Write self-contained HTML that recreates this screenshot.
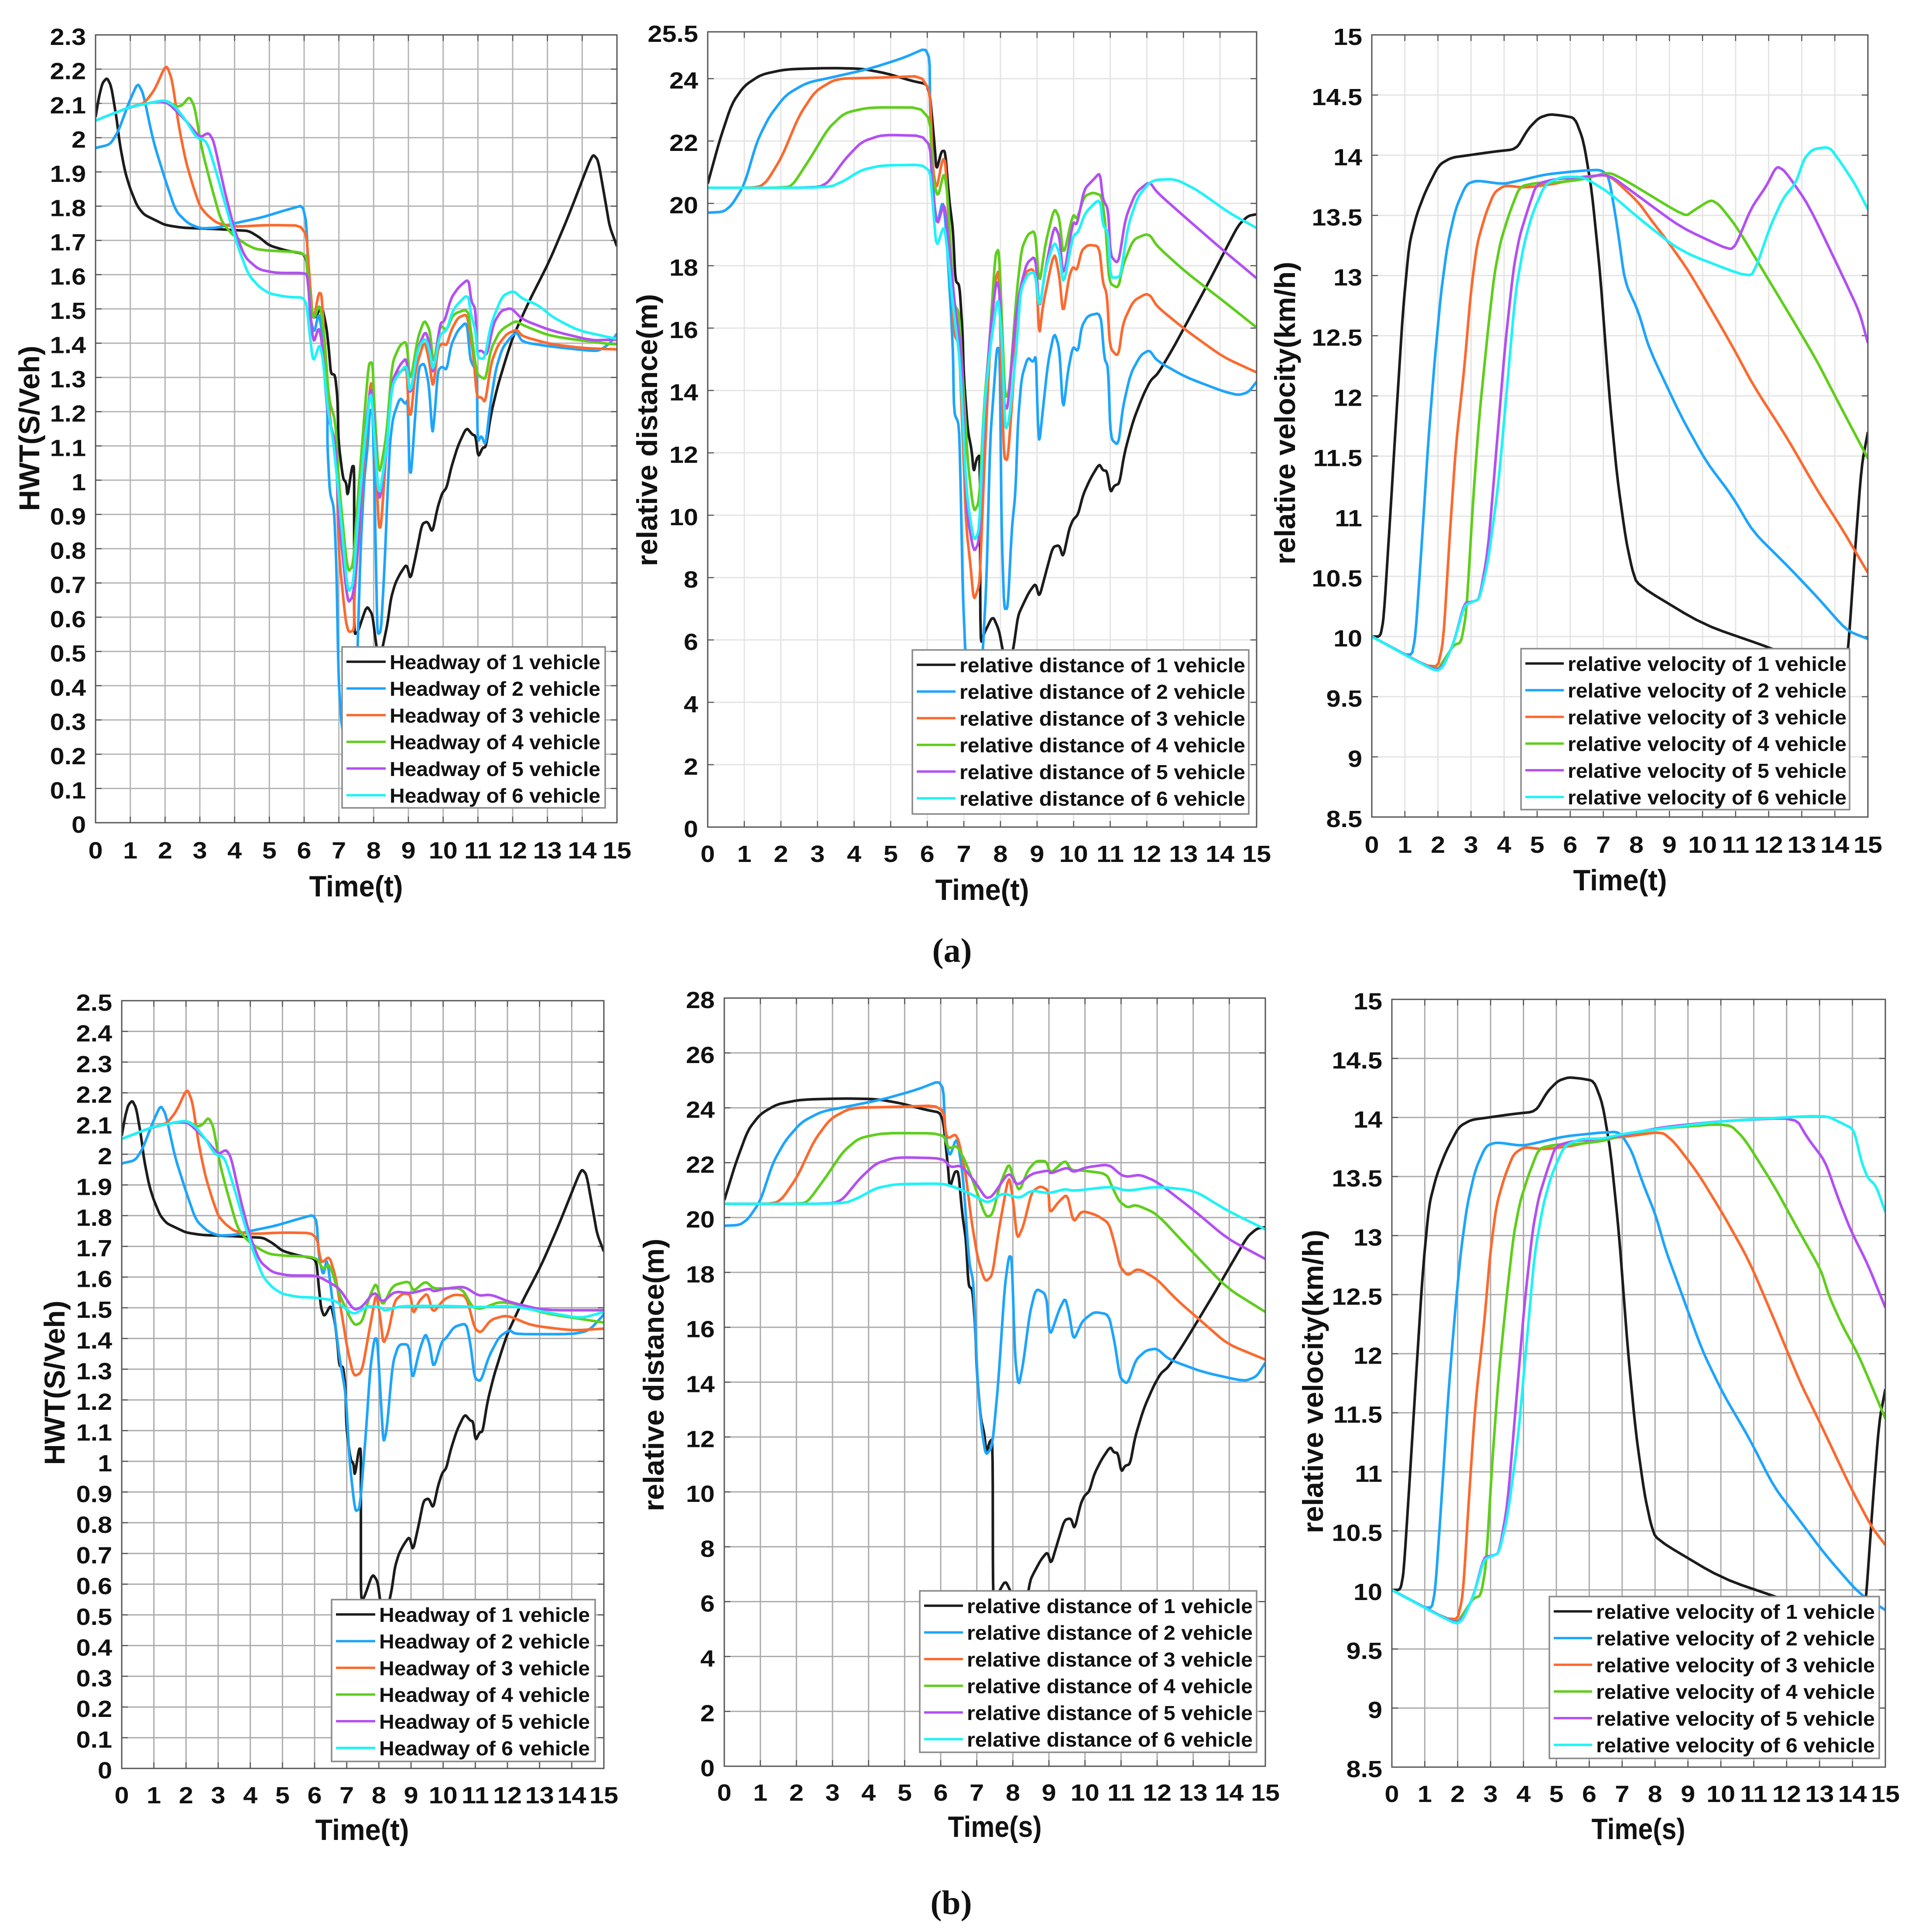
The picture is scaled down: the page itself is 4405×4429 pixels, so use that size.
<!DOCTYPE html>
<html lang="en">
<head>
<meta charset="utf-8">
<title>Headway, relative distance and relative velocity of 6 vehicles</title>
<style>
html,body{margin:0;padding:0;background:#fff;width:4405px;height:4429px;overflow:hidden}
svg{display:block}
text{font-family:"Liberation Sans",sans-serif;font-weight:bold;fill:#111}
.cap{font-family:"Liberation Serif",serif;font-size:78px;fill:#111}
</style>
</head>
<body>
<svg id="figure" xmlns="http://www.w3.org/2000/svg" width="4405" height="4429" viewBox="0 0 4405 4429">
<rect width="4405" height="4429" fill="#fff"/>
<g id="panels"></g>
<text class="cap" x="2182" y="2205" text-anchor="middle">(a)</text>
<text class="cap" x="2180" y="4388" text-anchor="middle">(b)</text>
</svg>
<script>
/* ---------- tick labels ---------- */
const timeTicks=["0","1","2","3","4","5","6","7","8","9","10","11","12","13","14","15"];
const hwtTicksA=["0","0.1","0.2","0.3","0.4","0.5","0.6","0.7","0.8","0.9","1","1.1","1.2","1.3","1.4","1.5","1.6","1.7","1.8","1.9","2","2.1","2.2","2.3"];
const hwtTicksB=["0","0.1","0.2","0.3","0.4","0.5","0.6","0.7","0.8","0.9","1","1.1","1.2","1.3","1.4","1.5","1.6","1.7","1.8","1.9","2","2.1","2.2","2.3","2.4","2.5"];
const distTicksA=["0","2","4","6","8","10","12","14","16","18","20","22","24","25.5"];
const distTicksB=["0","2","4","6","8","10","12","14","16","18","20","22","24","26","28"];
const velTicks=["8.5","9","9.5","10","10.5","11","11.5","12","12.5","13","13.5","14","14.5","15"];

/* ---------- legend labels ---------- */
const hwtNames=["Headway of 1 vehicle","Headway of 2 vehicle","Headway of 3 vehicle","Headway of 4 vehicle","Headway of 5 vehicle","Headway of 6 vehicle"];
const distNames=["relative distance of 1 vehicle","relative distance of 2 vehicle","relative distance of 3 vehicle","relative distance of 4 vehicle","relative distance of 5 vehicle","relative distance of 6 vehicle"];
const velNames=["relative velocity of 1 vehicle","relative velocity of 2 vehicle","relative velocity of 3 vehicle","relative velocity of 4 vehicle","relative velocity of 5 vehicle","relative velocity of 6 vehicle"];
const seriesColors=["#1c1c1c","#1ea5fb","#fb6a2f","#5fce1c","#b350f2","#1ff3f6"];

/* ---------- headway series: [time, value] ---------- */
const hwt1=[[0,2.06],[.1,2.12],[.2,2.16],[.33,2.175],[.45,2.15],[.6,2.06],[.7,1.98],[.85,1.9],[1,1.85],[1.2,1.8],[1.4,1.775],[1.7,1.76],[2,1.745],[2.5,1.737],[3,1.735],[3.5,1.733],[4,1.73],[4.4,1.728],[4.7,1.71],[5,1.685],[5.5,1.67],[6.05,1.66],[6.12,1.58],[6.2,1.5],[6.3,1.47],[6.51,1.511],[6.64,1.448],[6.71,1.384],[6.77,1.31],[6.89,1.308],[6.96,1.24],[6.99,1.11],[7.12,1.004],[7.21,.993],[7.25,.951],[7.38,1.041],[7.44,1.041],[7.44,.825],[7.44,.55],[7.54,.555],[7.8,.634],[7.96,.609],[8.05,.54],[8.15,.46],[8.27,.518],[8.4,.582],[8.5,.656],[8.62,.698],[8.75,.725],[8.95,.756],[9.06,.708],[9.24,.793],[9.39,.872],[9.55,.88],[9.69,.846],[9.84,.92],[9.97,.962],[10.1,.978],[10.23,1.036],[10.42,1.099],[10.67,1.154],[10.84,1.133],[10.93,1.13],[11.01,1.067],[11.13,1.094],[11.23,1.097],[11.38,1.195],[11.58,1.279],[11.83,1.363],[12.02,1.421],[12.47,1.522],[13.05,1.638],[13.6,1.77],[14.2,1.928],[14.32,1.951],[14.46,1.934],[14.67,1.812],[14.79,1.74],[15,1.683]];
const hwt2Early=[[0,1.97],[.42,1.98],[.66,2.02],[.95,2.1],[1.21,2.16],[1.37,2.13],[1.66,1.99],[2.01,1.875],[2.31,1.785],[2.66,1.75],[3.01,1.735],[3.49,1.737],[4,1.75],[4.78,1.767],[5.49,1.789],[6.05,1.805]];
const hwt3Early=[[0,2.05],[1,2.09],[1.4,2.1],[1.7,2.14],[2.03,2.215],[2.2,2.17],[2.4,2.03],[2.6,1.93],[2.8,1.86],[3,1.8],[3.2,1.775],[3.5,1.75],[4,1.74],[5,1.745],[6.05,1.743]];
const hwt4Early=[[0,2.05],[1,2.09],[2,2.11],[2.35,2.09],[2.5,2.095],[2.7,2.12],[2.85,2.09],[3.05,1.97],[3.3,1.87],[3.6,1.76],[3.9,1.72],[4.3,1.69],[4.6,1.675],[5,1.67],[6.05,1.665]];
const hwt5Early=[[0,2.05],[1,2.09],[2,2.11],[2.6,2.05],[3,2],[3.25,2.015],[3.4,1.99],[3.7,1.85],[4,1.73],[4.3,1.65],[4.7,1.615],[5.2,1.605],[6.05,1.605]];
const hwt6Early=[[0,2.05],[.5,2.07],[1,2.09],[1.5,2.1],[2,2.11],[2.3,2.09],[2.6,2.05],[2.9,2],[3.2,1.99],[3.5,1.89],[3.8,1.78],[4.1,1.68],[4.4,1.6],[4.7,1.565],[5,1.545],[5.5,1.535],[6.05,1.533]];

const hwtA2=[[6.16,1.48],[6.29,1.427],[6.42,1.49],[6.51,1.437],[6.67,1.216],[6.67,1.1],[6.74,.962],[6.86,.92],[6.93,.751],[6.99,.424],[7.08,.276],[7.3,.2],[7.5,.3],[7.54,.519],[7.63,.814],[7.73,1.004],[7.83,1.1],[7.89,1.205],[7.97,1.205],[8.02,1],[8.08,.688],[8.11,.55],[8.21,.556],[8.31,.74],[8.4,.962],[8.47,1.11],[8.56,1.184],[8.76,1.242],[8.92,1.221],[8.98,1.237],[9.03,1.026],[9.08,1.02],[9.2,1.194],[9.3,1.332],[9.46,1.342],[9.59,1.279],[9.69,1.131],[9.75,1.184],[9.85,1.321],[9.97,1.332],[10.1,1.321],[10.23,1.395],[10.42,1.437],[10.68,1.464],[10.78,1.353],[10.87,1.332],[10.97,1.321],[10.99,1.11],[11.1,1.131],[11.22,1.1],[11.35,1.216],[11.51,1.321],[11.7,1.385],[11.96,1.42],[12.12,1.432],[12.28,1.403],[13.1,1.39],[14.4,1.376],[14.6,1.385],[14.83,1.403],[15,1.428]];
const hwtA3=[[6.16,1.585],[6.26,1.458],[6.42,1.548],[6.51,1.543],[6.64,1.29],[6.8,1.131],[6.93,1.1],[6.99,.793],[7.19,.592],[7.28,.556],[7.44,.561],[7.44,.656],[7.6,.867],[7.76,1.11],[7.92,1.3],[7.99,1.215],[8.08,1.004],[8.15,.862],[8.21,.862],[8.31,1.004],[8.47,1.258],[8.63,1.31],[8.82,1.32],[8.95,1.33],[9.01,1.194],[9.08,1.19],[9.2,1.321],[9.46,1.41],[9.59,1.353],[9.71,1.263],[9.85,1.385],[9.97,1.4],[10.1,1.393],[10.23,1.437],[10.42,1.474],[10.68,1.485],[10.78,1.427],[10.87,1.363],[10.97,1.242],[11.1,1.242],[11.21,1.226],[11.38,1.342],[11.58,1.395],[11.83,1.427],[12.12,1.44],[12.28,1.42],[13.1,1.397],[14.1,1.385],[15,1.382]];
const hwtA4=[[6.1,1.6],[6.26,1.464],[6.45,1.517],[6.58,1.427],[6.71,1.237],[6.9,1.173],[6.99,1.004],[7.25,.73],[7.41,.751],[7.54,.941],[7.73,1.184],[7.86,1.342],[7.97,1.344],[8.02,1.216],[8.15,1.004],[8.37,1.131],[8.53,1.342],[8.76,1.395],[8.95,1.406],[9.05,1.279],[9.27,1.416],[9.46,1.469],[9.62,1.437],[9.72,1.332],[9.91,1.453],[10.1,1.437],[10.29,1.485],[10.71,1.5],[10.81,1.427],[10.97,1.311],[11.1,1.3],[11.22,1.295],[11.38,1.385],[11.64,1.437],[12.09,1.466],[12.28,1.453],[13.1,1.42],[14.83,1.397],[15,1.397]];
const hwtA5=[[6.1,1.59],[6.26,1.395],[6.42,1.448],[6.51,1.406],[6.67,1.194],[6.9,1.11],[6.99,.899],[7.25,.64],[7.41,.661],[7.54,.793],[7.76,1.142],[7.92,1.284],[8.02,1.163],[8.15,.92],[8.37,1.078],[8.53,1.29],[8.76,1.337],[8.95,1.358],[9.05,1.237],[9.27,1.385],[9.49,1.437],[9.62,1.395],[9.71,1.3],[9.91,1.458],[10.04,1.464],[10.23,1.532],[10.45,1.564],[10.73,1.588],[10.81,1.522],[10.93,1.5],[10.97,1.374],[11.1,1.379],[11.26,1.363],[11.45,1.458],[11.67,1.495],[11.96,1.503],[12.28,1.469],[13.1,1.437],[14.27,1.408],[14.83,1.41],[15,1.41]];
const hwtA6=[[6.16,1.427],[6.26,1.342],[6.45,1.4],[6.54,1.353],[6.67,1.216],[6.83,1.12],[6.96,.994],[7.25,.672],[7.41,.693],[7.54,.878],[7.73,1.1],[7.92,1.274],[8.02,1.131],[8.15,.941],[8.37,1.09],[8.53,1.279],[8.76,1.316],[8.95,1.337],[9.05,1.247],[9.27,1.385],[9.49,1.416],[9.62,1.374],[9.71,1.316],[9.91,1.427],[10.1,1.437],[10.29,1.5],[10.71,1.545],[10.81,1.48],[10.93,1.437],[10.99,1.358],[11.19,1.353],[11.38,1.458],[11.7,1.538],[12.02,1.553],[12.28,1.53],[12.73,1.511],[13.18,1.474],[13.89,1.437],[14.83,1.416],[15,1.413]];

const hwtB2=[[6.14,1.66],[6.27,1.603],[6.39,1.664],[6.58,1.502],[6.77,1.34],[6.97,1.22],[7.09,.998],[7.26,.836],[7.41,.846],[7.6,1.098],[7.73,1.3],[7.86,1.4],[7.95,1.4],[8.05,1.22],[8.14,1.058],[8.24,1.098],[8.43,1.32],[8.62,1.381],[8.94,1.381],[9.04,1.26],[9.26,1.361],[9.45,1.418],[9.58,1.381],[9.7,1.3],[9.96,1.391],[10.09,1.401],[10.34,1.438],[10.72,1.45],[10.85,1.381],[10.98,1.27],[11.17,1.26],[11.42,1.341],[11.74,1.405],[12.06,1.428],[12.25,1.414],[14.03,1.414],[14.54,1.426],[15,1.478]];
const hwtB3=[[6.2,1.644],[6.46,1.668],[6.65,1.603],[6.84,1.482],[7.03,1.361],[7.22,1.276],[7.47,1.29],[7.73,1.442],[7.92,1.553],[8.05,1.462],[8.14,1.381],[8.3,1.422],[8.49,1.523],[8.75,1.547],[8.98,1.543],[9.07,1.478],[9.26,1.523],[9.51,1.549],[9.68,1.482],[10.02,1.527],[10.34,1.543],[10.72,1.539],[10.98,1.432],[11.17,1.418],[11.49,1.462],[11.99,1.476],[12.76,1.442],[14.03,1.426],[15,1.432]];
const hwtB4=[[6.27,1.624],[6.46,1.644],[6.77,1.543],[7.22,1.442],[7.47,1.452],[7.73,1.543],[7.92,1.583],[8.11,1.502],[8.43,1.573],[8.94,1.587],[9.07,1.553],[9.45,1.587],[9.7,1.563],[10.02,1.563],[10.59,1.563],[10.91,1.502],[11.17,1.496],[11.74,1.519],[12.25,1.513],[13.14,1.482],[15,1.452]];
const hwtB5=[[6.39,1.587],[6.77,1.563],[7.22,1.492],[7.47,1.502],[7.86,1.553],[8.11,1.517],[8.49,1.553],[9,1.547],[9.58,1.563],[9.7,1.553],[10.09,1.563],[10.66,1.569],[11.1,1.539],[11.49,1.543],[12.12,1.517],[13.14,1.492],[15,1.492]];
const hwtB6=[[6.65,1.523],[6.9,1.502],[7.22,1.478],[7.67,1.506],[8.05,1.502],[8.18,1.49],[8.68,1.506],[10.21,1.506],[11.17,1.502],[12.12,1.506],[13.4,1.482],[14.29,1.466],[15,1.486]];

/* ---------- relative distance series ---------- */
const dist1=[[0,20.63],[.32,22],[.66,23.2],[1,23.77],[1.46,24.13],[2.14,24.3],[3.29,24.34],[4.2,24.32],[4.88,24.17],[5.57,23.93],[6.05,23.81],[6.2,21.86],[6.25,21.04],[6.39,21.68],[6.49,21.68],[6.6,20.1],[6.7,19.19],[6.77,17.5],[6.88,17.39],[6.96,15.94],[7,14.43],[7.11,12.69],[7.21,12.11],[7.27,11.36],[7.35,11.82],[7.44,11.94],[7.45,5.85],[7.55,6.2],[7.79,6.78],[7.96,6.31],[8.07,5.62],[8.2,5.27],[8.34,5.62],[8.48,6.78],[8.61,7.12],[8.78,7.53],[8.96,7.82],[9.06,7.36],[9.23,8.11],[9.43,8.98],[9.61,9.04],[9.71,8.63],[9.88,9.56],[9.98,9.85],[10.12,10.02],[10.26,10.66],[10.46,11.18],[10.7,11.65],[10.8,11.44],[10.91,11.42],[11.01,10.72],[11.11,10.95],[11.25,11.01],[11.39,12],[11.63,13.04],[11.9,13.85],[12.1,14.32],[12.31,14.55],[12.72,15.36],[13.2,16.4],[13.68,17.45],[14.09,18.38],[14.5,19.3],[14.77,19.6],[15,19.65]];
const dist2Early=[[0,19.7],[.43,19.73],[.66,19.95],[1,20.6],[1.35,22],[1.69,22.8],[2.14,23.48],[2.71,23.87],[3.51,24.07],[4.43,24.32],[5.34,24.66],[6.06,25.03]];
const dist3Early=[[0,20.5],[1.2,20.5],[1.45,20.55],[1.63,20.73],[2.03,21.5],[2.49,22.8],[2.94,23.6],[3.51,24],[4.65,24.03],[6.06,24.09]];
const dist4Early=[[0,20.5],[2.2,20.5],[2.37,20.67],[2.83,21.5],[3.29,22.4],[3.74,22.9],[4.43,23.08],[6.06,23.07]];
const dist5Early=[[0,20.5],[3,20.5],[3.29,20.67],[3.74,21.4],[4.2,21.97],[4.77,22.2],[6.06,22.16]];
const dist6Early=[[0,20.5],[3.3,20.5],[3.74,20.73],[4.2,21.07],[4.77,21.22],[6.06,21.24]];

const distA2=[[6.08,22.8],[6.18,20.1],[6.27,19.3],[6.42,20.1],[6.5,19.42],[6.7,15.48],[6.73,13.27],[6.87,12.92],[6.92,10.49],[6.97,7.59],[7.04,5.6],[7.1,4.9],[7.45,4.9],[7.52,5.67],[7.62,7.94],[7.72,12.46],[7.83,14.2],[7.9,15.36],[7.98,15.36],[8.03,9.56],[8.1,7],[8.2,7],[8.31,9.56],[8.41,10.72],[8.48,13.04],[8.58,14.43],[8.75,15.07],[8.89,14.9],[8.97,15.13],[9.02,13.04],[9.06,12.29],[9.16,13.39],[9.3,14.9],[9.47,15.88],[9.61,15.36],[9.71,13.27],[9.85,14.66],[9.98,15.42],[10.12,15.24],[10.22,16.06],[10.39,16.4],[10.74,16.49],[10.84,15.01],[10.94,14.78],[11.01,12.46],[11.22,12.23],[11.35,13.5],[11.56,14.55],[11.83,15.13],[12.07,15.3],[12.28,14.95],[13.06,14.43],[14.09,13.97],[14.5,13.85],[14.77,13.94],[15,14.28]];
const distA3=[[6.15,21.16],[6.25,20.4],[6.42,21.45],[6.5,21.33],[6.66,17.7],[6.73,15.8],[6.87,15.48],[6.97,12.46],[7.07,9.56],[7.18,8.4],[7.27,7.24],[7.42,7.76],[7.45,8.4],[7.55,11.3],[7.69,14.9],[7.86,17.56],[7.96,17.9],[8.03,14.2],[8.1,11.82],[8.2,11.76],[8.34,13.97],[8.48,16.75],[8.68,17.8],[8.89,17.91],[8.99,17.45],[9.06,15.7],[9.16,16.75],[9.47,18.49],[9.61,17.68],[9.71,16.4],[9.88,17.68],[9.98,17.97],[10.09,17.85],[10.22,18.49],[10.39,18.67],[10.7,18.63],[10.8,17.45],[10.91,17.1],[10.99,15.36],[11.22,15.07],[11.35,16.17],[11.63,16.87],[11.97,17.1],[12.1,17.04],[12.28,16.69],[13.06,15.94],[14.09,15.07],[15,14.58]];
const distA4=[[6.15,20.81],[6.29,20.17],[6.46,21.04],[6.56,20.23],[6.73,16.75],[6.87,16.52],[6.97,14.43],[7.11,11.65],[7.27,10.08],[7.42,10.43],[7.55,13.5],[7.69,15.36],[7.86,18.38],[7.96,18.55],[8.07,15.36],[8.13,13.74],[8.24,13.97],[8.44,17.1],[8.58,18.55],[8.75,19.01],[8.95,19.13],[9.06,17.33],[9.23,18.72],[9.47,19.86],[9.61,19.54],[9.72,18.26],[9.98,19.67],[10.09,19.48],[10.29,20.23],[10.53,20.35],[10.77,20.25],[10.87,19.3],[10.97,17.45],[11.22,17.27],[11.35,18.03],[11.63,18.84],[11.97,19.01],[12.1,18.96],[12.28,18.63],[13.06,17.8],[14.09,16.87],[15,16.02]];
const distA5=[[6.15,20.35],[6.27,19.25],[6.46,20.06],[6.56,19.07],[6.77,16.52],[6.94,15.25],[7.07,10.14],[7.27,8.8],[7.42,9.15],[7.55,13.04],[7.72,15.94],[7.89,17.56],[7.98,17.2],[8.1,13.5],[8.2,13.39],[8.41,16.29],[8.55,17.33],[8.72,18.09],[8.96,18.32],[9.06,16.52],[9.23,17.91],[9.47,19.3],[9.61,18.96],[9.72,17.56],[9.98,19.42],[10.09,19.3],[10.29,20.46],[10.53,20.75],[10.72,20.99],[10.8,20.12],[10.94,19.83],[11.01,18.32],[11.18,18.09],[11.25,18.26],[11.42,19.54],[11.7,20.35],[12.07,20.7],[12.28,20.35],[13.06,19.54],[14.09,18.49],[15,17.6]];
const distA6=[[6.15,20],[6.25,18.55],[6.46,19.33],[6.56,18.38],[6.7,16.75],[6.9,14.9],[7.07,10.72],[7.27,9.15],[7.42,9.5],[7.55,13.39],[7.72,15.36],[7.93,17.1],[8.03,15.82],[8.13,12.69],[8.24,13.04],[8.44,15.36],[8.55,17.22],[8.75,17.74],[8.95,17.8],[9.06,16.58],[9.23,17.91],[9.47,18.78],[9.61,18.43],[9.72,17.33],[9.98,18.96],[10.12,19.07],[10.32,19.71],[10.72,20.17],[10.8,19.3],[10.94,19.07],[11.01,17.62],[11.18,17.62],[11.28,17.68],[11.49,19.3],[11.76,20.23],[12.14,20.75],[12.79,20.78],[13.41,20.4],[14.23,19.71],[15,19.21]];

const distB2=[[6.13,23.07],[6.24,22.17],[6.45,22.96],[6.62,21.49],[6.79,18.33],[6.91,17.65],[7.02,14.03],[7.14,12.23],[7.25,11.32],[7.43,11.66],[7.6,14.03],[7.77,17.42],[7.89,18.6],[7.97,18.55],[8.06,14.94],[8.16,13.81],[8.29,14.71],[8.47,16.52],[8.64,17.42],[8.93,17.2],[9.02,15.62],[9.28,16.63],[9.45,17.08],[9.56,16.52],[9.68,15.5],[9.91,16.18],[10.03,16.34],[10.26,16.56],[10.66,16.47],[10.83,15.39],[10.97,14.15],[11.18,13.92],[11.41,14.82],[11.7,15.16],[11.99,15.23],[12.34,14.82],[13.26,14.37],[14.42,14.03],[14.76,14.21],[15,14.71]];
const distB3=[[6.16,22.85],[6.45,23.07],[6.68,21.72],[6.85,19.91],[7.02,18.55],[7.23,17.65],[7.43,17.88],[7.6,19.46],[7.89,21.6],[8.01,20.59],[8.12,19.19],[8.29,19.68],[8.52,20.93],[8.76,21.15],[8.99,20.99],[9.02,20.14],[9.28,20.59],[9.51,20.86],[9.68,19.8],[9.91,20.25],[10.32,20.09],[10.66,19.8],[10.83,19.01],[10.97,18.21],[11.18,17.88],[11.47,18.15],[11.99,17.76],[12.57,16.97],[13.26,16.18],[13.95,15.39],[15,14.82]];
const distB4=[[6.21,22.51],[6.45,22.62],[6.68,22.06],[6.91,21.27],[7.25,20.02],[7.43,20.09],[7.66,21.27],[7.89,21.99],[8.01,21.49],[8.18,20.93],[8.41,21.72],[8.64,22.06],[8.93,22.06],[9.04,21.6],[9.45,22.1],[9.62,21.72],[9.91,21.72],[10.6,21.6],[10.78,21.04],[10.95,20.59],[11.18,20.36],[11.41,20.47],[11.99,20.14],[13.03,18.67],[13.95,17.42],[15,16.56]];
const distB5=[[6.27,21.83],[6.56,21.9],[6.91,21.38],[7.25,20.7],[7.43,20.77],[7.89,21.67],[8.12,21.15],[8.52,21.6],[8.99,21.72],[9.04,21.6],[9.51,21.83],[9.68,21.65],[10.03,21.83],[10.66,21.94],[11.01,21.54],[11.18,21.49],[11.53,21.56],[11.99,21.31],[13.03,20.25],[13.95,19.23],[15,18.49]];
const distB6=[[6.45,21.08],[6.91,20.81],[7.31,20.52],[7.72,20.9],[8.18,20.7],[8.52,20.99],[8.99,20.88],[9.45,21.04],[9.68,20.97],[10.72,21.13],[11.18,20.97],[11.99,21.13],[13.03,20.99],[13.95,20.25],[15,19.57]];

/* ---------- relative velocity series ---------- */
const vel1=[[0,10],[.26,10],[.36,10.15],[.55,10.97],[.74,11.83],[.94,12.7],[1.13,13.26],[1.36,13.51],[1.64,13.71],[2.03,13.92],[2.41,13.98],[2.93,14],[3.7,14.03],[4.37,14.05],[4.73,14.22],[5.05,14.31],[5.37,14.34],[5.75,14.33],[6.14,14.31],[6.4,14.12],[6.65,13.71],[6.91,13],[7.17,12.04],[7.42,11.32],[7.68,10.81],[7.87,10.56],[8.03,10.43],[10.02,10.1],[12.11,9.9],[13.2,9.77],[14.29,9.64],[14.42,9.95],[14.61,10.71],[14.81,11.42],[15,11.7]];
const vel2Early=[[0,10],[1.19,9.82],[1.32,10],[1.52,10.81],[1.71,11.63],[1.9,12.29],[2.09,12.85],[2.29,13.26],[2.54,13.56],[2.86,13.76],[3.18,13.79],[3.96,13.76],[4.47,13.79],[5.24,13.84],[6.27,13.87],[6.93,13.88]];
const vel3Early=[[0,10],[1.96,9.71],[2.16,9.95],[2.35,10.81],[2.54,11.58],[2.8,12.24],[2.99,12.85],[3.18,13.26],[3.44,13.51],[3.7,13.69],[4.02,13.75],[4.6,13.73],[5.5,13.76],[6.4,13.82],[7.17,13.84]];
const vel4Early=[[0,10],[1.96,9.71],[2.22,9.82],[2.48,9.93],[2.7,9.95],[2.86,10.2],[3.06,11.12],[3.25,11.83],[3.51,12.54],[3.7,13],[3.89,13.28],[4.15,13.51],[4.47,13.74],[4.98,13.77],[5.5,13.77],[6.4,13.8],[7.17,13.86]];
const vel5Early=[[0,10],[1.96,9.71],[2.2,9.78],[2.48,9.95],[2.8,10.28],[3.06,10.29],[3.25,10.31],[3.51,10.71],[3.76,11.53],[4.02,12.39],[4.28,13.05],[4.47,13.33],[4.73,13.56],[4.98,13.76],[5.5,13.8],[6.4,13.82]];
const vel6Early=[[0,10],[1.19,9.82],[1.96,9.71],[2.16,9.75],[2.48,9.95],[2.8,10.26],[3.06,10.29],[3.25,10.31],[3.51,10.61],[3.83,11.27],[4.08,12.04],[4.34,12.85],[4.6,13.26],[4.85,13.51],[5.24,13.76],[5.75,13.82],[6.4,13.82]];

const velA2=[[7.17,13.82],[7.42,13.41],[7.65,12.95],[8.06,12.7],[8.39,12.39],[9.35,11.83],[10.12,11.45],[10.89,11.17],[11.53,10.87],[12.56,10.59],[13.46,10.33],[14.36,10.05],[15,9.98]];
const velA3=[[8.06,13.61],[8.45,13.46],[8.96,13.28],[9.6,13.03],[10.89,12.42],[11.53,12.09],[12.56,11.65],[13.46,11.22],[14.23,10.89],[15,10.53]];
const velA4=[[7.68,13.79],[9.48,13.49],[9.73,13.54],[10.25,13.63],[10.5,13.59],[11.02,13.41],[11.92,13],[12.82,12.59],[13.46,12.29],[14.23,11.88],[15,11.48]];
const velA5=[[7.17,13.84],[8.06,13.66],[9.35,13.4],[10.83,13.21],[11.02,13.26],[11.47,13.56],[11.92,13.74],[12.24,13.91],[12.49,13.87],[13.2,13.59],[14.23,13],[14.74,12.7],[15,12.44]];
const velA6=[[7.17,13.69],[8.06,13.48],[9.35,13.2],[11.44,12.98],[11.66,13.1],[12.05,13.41],[12.43,13.64],[12.82,13.77],[13.07,13.97],[13.33,14.05],[13.84,14.07],[14.23,13.92],[14.61,13.76],[15,13.55]];

const velB2=[[7.3,13.71],[7.62,13.45],[8.01,13.18],[8.33,12.87],[8.78,12.53],[9.43,12.03],[10.07,11.66],[10.85,11.29],[11.62,10.87],[12.39,10.59],[13.17,10.3],[14.2,9.97],[15,9.83]];
const velB3=[[8.2,13.88],[8.59,13.79],[9.3,13.53],[10.07,13.18],[10.85,12.79],[11.62,12.29],[12.39,11.77],[13.04,11.4],[13.94,10.87],[14.59,10.53],[15,10.38]];
const velB4=[[8.27,13.91],[10.24,13.95],[10.72,13.82],[11.62,13.42],[12.39,13.03],[13.04,12.71],[13.3,12.48],[13.69,12.24],[14.2,11.98],[15,11.45]];
const velB5=[[7,13.85],[8.27,13.92],[10.07,13.97],[12.27,14],[12.65,13.82],[13.17,13.63],[13.56,13.32],[13.94,13.05],[14.46,12.76],[15,12.39]];
const velB6=[[7,13.86],[8.27,13.91],[10.07,13.97],[13.17,14.02],[13.69,13.95],[14.04,13.9],[14.27,13.63],[14.46,13.49],[14.72,13.42],[15,13.2]];

/* ---------- panel layout (styling only, values come from the arrays above) ---------- */
const panels=[
 {key:'a-hwt',box:[219,80,1414,1886],yMin:0,yMax:2.3,yTicks:hwtTicksA,grid:'#b4b4b4',
  series:[hwt1,[...hwt2Early,...hwtA2],[...hwt3Early,...hwtA3],[...hwt4Early,...hwtA4],[...hwt5Early,...hwtA5],[...hwt6Early,...hwtA6]],names:hwtNames,
  legend:[784,1483,1387,1852,109,483],yTitle:"HWT(S/Veh)",yT:[68,982,379],xTitle:"Time(t)",xT:[816,2055],xLab:1968},
 {key:'a-distance',box:[1622,73,2880,1896],yMin:0,yMax:25.5,yTicks:distTicksA,grid:'#e4e4e4',
  series:[dist1,[...dist2Early,...distA2],[...dist3Early,...distA3],[...dist4Early,...distA4],[...dist5Early,...distA5],[...dist6Early,...distA6]],names:distNames,
  legend:[2091,1490,2862,1866,108,655],yTitle:"relative distance(m)",yT:[1484,986,624],xTitle:"Time(t)",xT:[2251,2063],xLab:1976},
 {key:'a-velocity',box:[3144,80,4281,1873],yMin:8.5,yMax:15,yTicks:velTicks,grid:'#e4e4e4',
  series:[vel1,[...vel2Early,...velA2],[...vel3Early,...velA3],[...vel4Early,...velA4],[...vel5Early,...velA5],[...vel6Early,...velA6]],names:velNames,
  legend:[3486,1487,4239,1856,107,639],yTitle:"relative velocity(km/h)",yT:[2946,947,694],xTitle:"Time(t)",xT:[3713,2041],xLab:1955},
 {key:'b-hwt',box:[279,2294,1384,4054],yMin:0,yMax:2.5,yTicks:hwtTicksB,grid:'#ababab',
  series:[hwt1,[...hwt2Early,...hwtB2],[...hwt3Early,...hwtB3],[...hwt4Early,...hwtB4],[...hwt5Early,...hwtB5],[...hwt6Early,...hwtB6]],names:hwtNames,
  legend:[760,3667,1364,4038,109,483],yTitle:"HWT(S/Veh)",yT:[126,3170,377],xTitle:"Time(t)",xT:[830,4218],xLab:4134},
 {key:'b-distance',box:[1660,2288,2900,4049],yMin:0,yMax:28,yTicks:distTicksB,grid:'#ababab',
  series:[dist1,[...dist2Early,...distB2],[...dist3Early,...distB3],[...dist4Early,...distB4],[...dist5Early,...distB5],[...dist6Early,...distB6]],names:distNames,
  legend:[2108,3647,2880,4017,108,655],yTitle:"relative distance(m)",yT:[1499,3152,625],xTitle:"Time(s)",xT:[2280,4211],xLab:4128},
 {key:'b-velocity',box:[3190,2291,4321,4051],yMin:8.5,yMax:15,yTicks:velTicks,grid:'#ababab',
  series:[vel1,[...vel2Early,...velB2],[...vel3Early,...velB3],[...vel4Early,...velB4],[...vel5Early,...velB5],[...vel6Early,...velB6]],names:velNames,
  legend:[3551,3660,4307,4031,107,639],yTitle:"relative velocity(km/h)",yT:[3010,3167,696],xTitle:"Time(s)",xT:[3755,4216],xLab:4131}
];

const NS='http://www.w3.org/2000/svg';
function mk(tag,attrs,parent){
  const n=document.createElementNS(NS,tag);
  for(const k in attrs)n.setAttribute(k,attrs[k]);
  parent.appendChild(n);
  return n;
}
/* corner-rounding so the polyline reads as the smooth simulation trace */
function rounded(points){
  let cur=points;
  for(let pass=0;pass<2;pass++){
    const next=[cur[0]];
    for(let i=0;i<cur.length-1;i++){
      const a=cur[i],b=cur[i+1];
      next.push([a[0]+(b[0]-a[0])*.17,a[1]+(b[1]-a[1])*.17]);
      next.push([a[0]+(b[0]-a[0])*.83,a[1]+(b[1]-a[1])*.83]);
    }
    next.push(cur[cur.length-1]);
    cur=next;
  }
  return cur;
}
const root=document.getElementById('panels');

panels.forEach(function(p){
  const L=p.box[0],T=p.box[1],R=p.box[2],B=p.box[3];
  const xScale=function(t){return L+(t/15)*(R-L);};
  const yScale=function(v){return B-((v-p.yMin)/(p.yMax-p.yMin))*(B-T);};

  const g=mk('g',{},root);
  
  

  const clip=mk('clipPath',{id:'clip-'+p.key},g);
  mk('rect',{x:L,y:T,width:R-L,height:B-T},clip);

  const plotArea=mk('rect',{x:L,y:T,width:R-L,height:B-T,fill:'#fff'},g);
  
  

  /* vertical grid, ticks and x labels */
  timeTicks.forEach(function(lbl){
    const x=xScale(parseFloat(lbl));
    const gl=mk('line',{x1:x,x2:x,y1:T,y2:B,stroke:p.grid,'stroke-width':3},g);
    
    
    const tk=mk('path',{d:'M'+x+' '+B+'V'+(B-14)+'M'+x+' '+T+'V'+(T+14),stroke:'#555','stroke-width':2.5,fill:'none'},g);
    
    
    const tx=mk('text',{transform:'translate('+x+' '+p.xLab+') scale(1.1 1)','text-anchor':'middle','font-size':54},g);
    
    
    tx.textContent=lbl;
  });

  /* horizontal grid, ticks and y labels */
  p.yTicks.forEach(function(lbl){
    const y=yScale(parseFloat(lbl));
    const gl=mk('line',{x1:L,x2:R,y1:y,y2:y,stroke:p.grid,'stroke-width':3},g);
    
    
    const tk=mk('path',{d:'M'+L+' '+y+'H'+(L+14)+'M'+R+' '+y+'H'+(R-14),stroke:'#555','stroke-width':2.5,fill:'none'},g);
    
    
    const tx=mk('text',{transform:'translate('+(L-22)+' '+(y+23)+') scale(1.1 1)','text-anchor':'end','font-size':54},g);
    
    
    tx.textContent=lbl;
  });

  /* series */
  p.series.forEach(function(pts,i){
    const px=rounded(pts.map(function(q){return [xScale(q[0]),yScale(q[1])];}));
    const d=px.map(function(q,j){return (j?'L':'M')+q[0].toFixed(1)+' '+q[1].toFixed(1);}).join('');
    const line=mk('path',{d:d,fill:'none',stroke:seriesColors[i],'stroke-width':6,'stroke-linejoin':'round','clip-path':'url(#clip-'+p.key+')'},g);
    
    
  });

  /* axes box */
  const frame=mk('rect',{x:L,y:T,width:R-L,height:B-T,fill:'none',stroke:'#555','stroke-width':3},g);
  
  

  /* axis titles */
  const xt=mk('text',{x:p.xT[0],y:p.xT[1],'text-anchor':'middle','font-size':68,textLength:215,lengthAdjust:'spacingAndGlyphs'},g);
  
  
  xt.textContent=p.xTitle;

  const yt=mk('text',{transform:'translate('+(p.yT[0]+22)+' '+p.yT[1]+') rotate(-90)','text-anchor':'middle','font-size':66,textLength:p.yT[2],lengthAdjust:'spacingAndGlyphs'},g);
  
  
  yt.textContent=p.yTitle;

  /* legend */
  const lg=p.legend;
  const lb=mk('g',{},g);
  
  
  const box=mk('rect',{x:lg[0],y:lg[1],width:lg[2]-lg[0],height:lg[3]-lg[1],fill:'#fff',stroke:'#8a8a8a','stroke-width':3.5},lb);
  
  
  p.names.forEach(function(name,i){
    const y=lg[1]+36+i*61.2;
    const sw=mk('line',{x1:lg[0]+10,x2:lg[0]+lg[4]-9,y1:y-2,y2:y-2,stroke:seriesColors[i],'stroke-width':5.5},lb);
    
    
    const t=mk('text',{x:lg[0]+lg[4],y:y+15,'font-size':46,textLength:lg[5],lengthAdjust:'spacingAndGlyphs'},lb);
    
    
    t.textContent=name;
  });
});
</script>
</body>
</html>
